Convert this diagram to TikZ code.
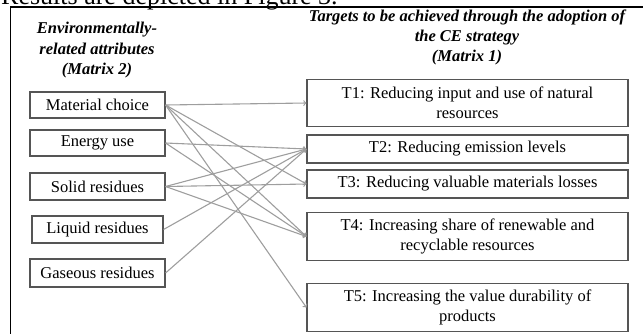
\documentclass[tikz,border=0pt]{standalone}
\usepackage{fontspec}
\setmainfont{Liberation Serif}
\definecolor{boxgray}{RGB}{85,85,85}
\definecolor{linkgray}{RGB}{158,158,158}
\tikzset{
  attrbox/.style={draw=boxgray, line width=1.1pt, minimum width=135pt, minimum height=27pt, inner sep=0pt, font=\fontsize{16.5}{20}\selectfont},
  targetbox/.style={draw=boxgray, line width=1.1pt, minimum width=321pt, inner sep=0pt, align=center, font=\fontsize{16.5}{20}\selectfont},
  heading/.style={anchor=north, inner sep=0pt, align=center, font=\fontsize{16.5}{20.4}\selectfont\bfseries\itshape},
  link/.style={linkgray, line width=1.1pt, ->}
}

\begin{document}
\begin{tikzpicture}[x=1pt,y=-1pt]
\useasboundingbox (0,0) rectangle (643,333);
\clip (0,0) rectangle (643,333);
\node[anchor=base west, inner sep=0pt, font=\fontsize{26}{30}\selectfont] (bodyline) at (1,4.5) {Results are depicted in Figure 3.};
\draw[black, line width=1.8pt] (10.5,7) rectangle (660,350);
% headings
\node[heading] (attrhead) at (97,22.3) {Environmentally-\\related attributes\\(Matrix 2)};
\node[heading] (targethead) at (467,9.2) {Targets to be achieved through the adoption of\\the CE strategy\\(Matrix 1)};
% attributes (Matrix 2)
\node[attrbox, minimum height=26pt] (matchoice) at (97.5,105) {Material choice};
\node[attrbox, minimum height=26pt] (energy) at (97.5,143) {Energy use};
\node[attrbox] (solid) at (97.5,186.5) {Solid residues};
\node[attrbox, minimum width=131pt] (liquid) at (97.5,229.5) {Liquid residues};
\node[attrbox, minimum height=28pt] (gaseous) at (97.5,273) {Gaseous residues};
% targets (Matrix 1)
\node[targetbox, minimum height=47pt] (t1) at (467.5,103) {T1: Reducing input and use of natural\\resources};
\node[targetbox, minimum height=28pt] (t2) at (467.5,149) {T2: Reducing emission levels};
\node[targetbox, minimum height=28pt] (t3) at (467.5,184) {T3: Reducing valuable materials losses};
\node[targetbox, minimum height=48pt] (t4) at (467.5,236.5) {T4: Increasing share of renewable and\\recyclable resources};
\node[targetbox, minimum height=48pt] (t5) at (467.5,307.5) {T5: Increasing the value durability of\\products};
% links
\draw[link] (matchoice.east) -- (t1.west);
\draw[link] (matchoice.east) -- (t3.west);
\draw[link] (matchoice.east) -- (t4.west);
\draw[link] (matchoice.east) -- (t5.west);
\draw[link] (energy.east) -- (t2.west);
\draw[link] (energy.east) -- (t4.west);
\draw[link] (solid.east) -- (t2.west);
\draw[link] (solid.east) -- (t3.west);
\draw[link] (solid.east) -- (t4.west);
\draw[link] (liquid.east) -- (t2.west);
\draw[link] (gaseous.east) -- (t2.west);
\end{tikzpicture}
\end{document}
